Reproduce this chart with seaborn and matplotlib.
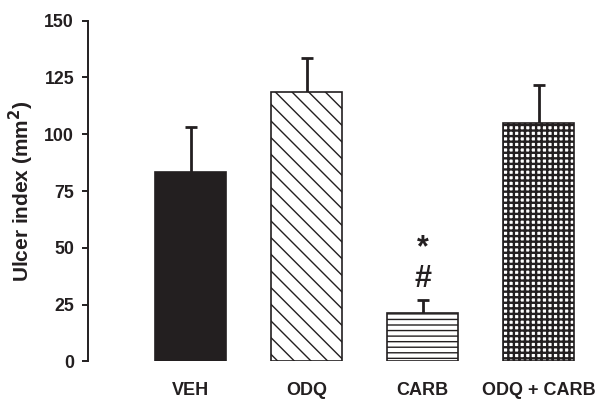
import numpy as np
import pandas as pd
import seaborn as sns
import matplotlib.pyplot as plt

# Data
groups = ["VEH", "ODQ", "CARB", "ODQ + CARB"]
ulcer_mean = [83.5, 118.5, 21.5, 105.0]
ulcer_sem = [19.5, 15.0, 5.5, 16.5]

# significance marks above CARB
mark_group = "CARB"
mark_symbols = ["#", "*"]
mark_y = [36.5, 50.0]

# bar styling
bar_hatch = ["", "\\\\", "---", "+++"]
bar_fill = ["#231f20", "white", "white", "white"]
ink = "#231f20"

sns.set_theme(style="white")
plt.rcParams["font.family"] = ["Liberation Sans", "DejaVu Sans"]
plt.rcParams["hatch.linewidth"] = 1.0

df = pd.DataFrame({"group": groups, "ulcer": ulcer_mean})

fig = plt.figure(figsize=(6.02, 3.99), dpi=100)
ax = fig.add_axes([0.1462, 0.094, 0.8447, 0.8546])

sns.barplot(data=df, x="group", y="ulcer", order=groups, width=0.61,
            errorbar=None, color="white", ax=ax, zorder=2)

for patch, fc, h in zip(ax.patches, bar_fill, bar_hatch):
    patch.set_facecolor(fc)
    patch.set_edgecolor(ink)
    patch.set_linewidth(1.2)
    patch.set_hatch(h)
    if h == "+++" and hasattr(patch, "set_hatch_linewidth"):
        patch.set_hatch_linewidth(1.7)

# upper error bars only
xpos = np.arange(len(groups))
_, caps, _ = ax.errorbar(xpos, ulcer_mean,
                         yerr=[np.zeros(len(groups)), ulcer_sem],
                         fmt="none", ecolor=ink, elinewidth=2, capsize=4.5,
                         capthick=2, zorder=1)
caps[0].set_visible(False)

i = groups.index(mark_group)
for s, yv in zip(mark_symbols, mark_y):
    ax.text(i, yv, s, ha="center", va="center", fontsize=22,
            fontweight="bold", color=ink)

ax.set_ylim(0, 150)
ax.set_xlim(-0.884, 3.5)
ax.set_yticks([0, 25, 50, 75, 100, 125, 150])

sns.despine(ax=ax, bottom=True)
ax.spines["left"].set_color(ink)
ax.spines["left"].set_linewidth(1.4)

ax.tick_params(axis="y", direction="out", length=4.5, width=1.4, color=ink,
               left=True, pad=5.5, labelsize=12.8, labelcolor=ink)
ax.tick_params(axis="x", length=0, pad=15, labelsize=13, labelcolor=ink)
for lab in ax.get_xticklabels() + ax.get_yticklabels():
    lab.set_fontweight("bold")

ax.set_xlabel("")
ax.set_ylabel("Ulcer index (mm$^\\mathbf{2}$)", fontsize=15,
              fontweight="bold", color=ink, labelpad=6)

fig.savefig("out.png", dpi=100)
